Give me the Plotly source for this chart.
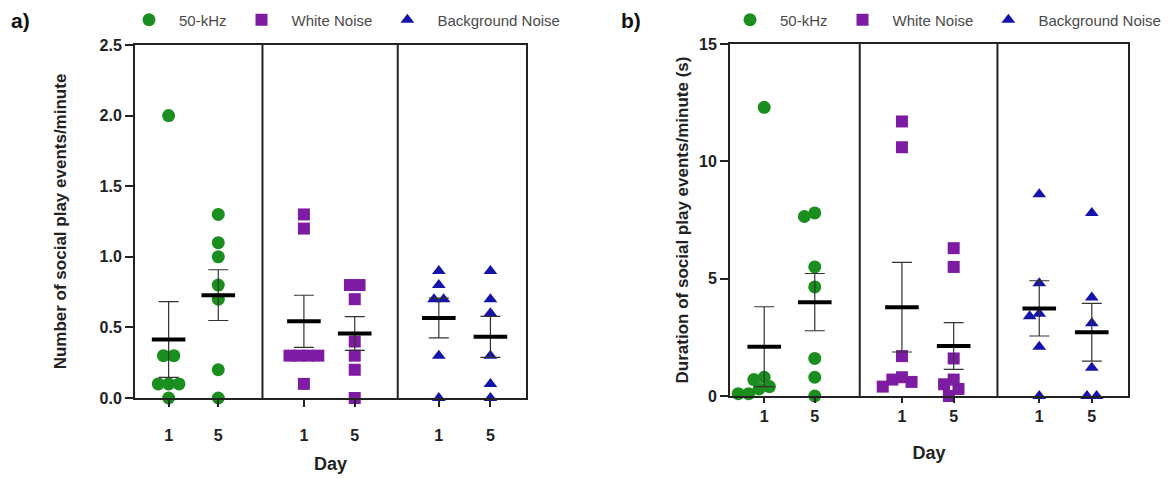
import numpy as np
import plotly.graph_objects as go

# ---------------- data ----------------
groups = ["50-kHz", "White Noise", "Background Noise"]
day_labels = ["1", "5", "1", "5", "1", "5"]

# Panel a: number of social play events / minute
events_50k_d1 = [2.0, 0.3, 0.3, 0.1, 0.1, 0.1, 0.0]
events_50k_d5 = [1.3, 1.1, 1.0, 0.8, 0.7, 0.2, 0.0]
events_wn_d1 = [1.3, 1.2, 0.3, 0.3, 0.3, 0.3, 0.1]
events_wn_d5 = [0.8, 0.8, 0.7, 0.4, 0.3, 0.2, 0.0]
events_bn_d1 = [0.9, 0.8, 0.7, 0.7, 0.3, 0.0]
events_bn_d5 = [0.9, 0.7, 0.6, 0.3, 0.1, 0.0]

# Panel b: duration of social play events / minute (s)
dur_50k_d1 = [12.3, 0.8, 0.7, 0.4, 0.3, 0.1, 0.1]
dur_50k_d5 = [7.8, 7.65, 5.5, 4.65, 1.6, 0.8, 0.0]
dur_wn_d1 = [11.7, 10.6, 1.7, 0.8, 0.7, 0.6, 0.4]
dur_wn_d5 = [6.3, 5.5, 1.6, 0.7, 0.5, 0.3, 0.0]
dur_bn_d1 = [8.6, 4.8, 3.5, 3.4, 2.1, 0.0]
dur_bn_d5 = [7.8, 4.2, 3.1, 1.2, 0.0, 0.0]

panel_a = [[events_50k_d1, events_50k_d5], [events_wn_d1, events_wn_d5], [events_bn_d1, events_bn_d5]]
panel_b = [[dur_50k_d1, dur_50k_d5], [dur_wn_d1, dur_wn_d5], [dur_bn_d1, dur_bn_d5]]

# ---------------- style / layout ----------------
colors = ["#1a8e1e", "#7d1ca3", "#1414a8"]
symbols = ["circle", "square", "triangle-up"]
msizes = [13, 12, 12]
FONT = "Liberation Sans, Arial, sans-serif"
W, H = 1174, 479
OFF = 8  # page body margin


def fx(px):
    return (px - OFF) / W


def fy(py):
    return (H - (py - OFF)) / H


tick_pos = [8.6, 21.3, 43.2, 56.2, 77.7, 90.9]
dividers = [32.6, 67.2]
X_RANGE = [0, 100]

dom_a_x = [fx(135), fx(526)]
dom_a_y = [fy(398), fy(45)]
dom_b_x = [fx(730), fx(1128)]
dom_b_y = [fy(396), fy(44)]


def swarm(values, d_px, px_per_y, px_per_x, overlap=0.8):
    """Simple beeswarm: return x offsets (in x units) limiting marker overlap."""
    vals = np.asarray(values, dtype=float)
    order = np.argsort(-vals, kind="stable")
    placed = []
    offs = np.zeros(len(vals))
    uniq = []
    for i in order:
        if not uniq or vals[i] != uniq[-1][0]:
            uniq.append([vals[i], [i]])
        else:
            uniq[-1][1].append(i)
    step = overlap * d_px
    cands = [0.0]
    for k in range(1, 20):
        cands += [-k * step / 2, k * step / 2]
    for v, idxs in uniq:
        k = len(idxs)
        base = [(j - (k - 1) / 2) * step for j in range(k)]
        y = v * px_per_y
        for c in cands:
            xs = [b + c for b in base]
            ok = all((x - px) ** 2 + (y - py) ** 2 >= (0.98 * step) ** 2 for x in xs for px, py in placed)
            if ok:
                break
        for j, i in enumerate(idxs):
            offs[i] = xs[j] / px_per_x
            placed.append((xs[j], y))
    return offs


fig = go.Figure()


def add_panel(data, xaxis, yaxis, legend, dom_x, dom_y, yrange):
    px_per_x = (dom_x[1] - dom_x[0]) * W / (X_RANGE[1] - X_RANGE[0])
    px_per_y = (dom_y[1] - dom_y[0]) * H / (yrange[1] - yrange[0])
    for g, (name, col, sym, ms) in enumerate(zip(groups, colors, symbols, msizes)):
        for d in range(2):
            vals = data[g][d]
            offs = swarm(vals, ms, px_per_y, px_per_x)
            xc = tick_pos[2 * g + d]
            fig.add_trace(go.Scatter(
                x=[xc + o for o in offs], y=vals, mode="markers",
                marker=dict(symbol=sym, size=ms, color=col, line=dict(width=0)),
                name=name, legendgroup=legend + name, showlegend=(d == 0),
                legend=legend, xaxis=xaxis, yaxis=yaxis, cliponaxis=False,
                hoverinfo="y"))
    for g in range(3):
        for d in range(2):
            vals = np.asarray(data[g][d], dtype=float)
            mean = vals.mean()
            sem = vals.std(ddof=1) / np.sqrt(len(vals))
            fig.add_trace(go.Scatter(
                x=[tick_pos[2 * g + d]], y=[mean], mode="markers",
                marker=dict(symbol="line-ew", size=24, color="black",
                            line=dict(color="black", width=4)),
                error_y=dict(type="data", array=[sem], visible=True,
                             color="#333333", thickness=1.2, width=10),
                showlegend=False, xaxis=xaxis, yaxis=yaxis, cliponaxis=False,
                hoverinfo="y"))
    for xv in dividers:
        fig.add_shape(type="line", xref=xaxis, yref=yaxis, x0=xv, x1=xv,
                      y0=yrange[0], y1=yrange[1],
                      line=dict(color="#222222", width=2), layer="above")


add_panel(panel_a, "x", "y", "legend", dom_a_x, dom_a_y, [0, 2.5])
add_panel(panel_b, "x2", "y2", "legend2", dom_b_x, dom_b_y, [0, 15])

axis_common = dict(showline=True, linecolor="#222222", linewidth=2, mirror=True,
                   showgrid=False, zeroline=False, ticks="outside",
                   tickcolor="#222222", tickwidth=2,
                   tickfont=dict(family=FONT, size=16, color="#222222", weight="bold"))

legend_common = dict(orientation="h", xanchor="left", yanchor="middle", itemwidth=50,
                     font=dict(family=FONT, size=15, color="#4a4a4a"),
                     bgcolor="rgba(0,0,0,0)", itemclick=False, itemdoubleclick=False)

fig.update_layout(
    width=W, height=H, plot_bgcolor="white", paper_bgcolor="white",
    margin=dict(l=0, r=0, t=0, b=0, autoexpand=False),
    font=dict(family=FONT, color="#222222"),
    xaxis=dict(domain=dom_a_x, range=X_RANGE, tickvals=tick_pos, ticktext=day_labels,
               ticklen=7, ticklabelstandoff=15, anchor="y",
               title=dict(text="<b>Day</b>", font=dict(family=FONT, size=18), standoff=14),
               **axis_common),
    yaxis=dict(domain=dom_a_y, range=[0, 2.5], tickvals=[0, 0.5, 1.0, 1.5, 2.0, 2.5],
               tickformat=".1f", ticklen=8, anchor="x",
               title=dict(text="<b>Number of social play events/minute</b>",
                          font=dict(family=FONT, size=17), standoff=29),
               **axis_common),
    xaxis2=dict(domain=dom_b_x, range=X_RANGE, tickvals=tick_pos, ticktext=day_labels,
                ticklen=5, ticklabelstandoff=0, anchor="y2",
                title=dict(text="<b>Day</b>", font=dict(family=FONT, size=18), standoff=22),
                **axis_common),
    yaxis2=dict(domain=dom_b_y, range=[0, 15], tickvals=[0, 5, 10, 15],
                ticklen=8, anchor="x2",
                title=dict(text="<b>Duration of social play events/minute (s)</b>",
                           font=dict(family=FONT, size=17), standoff=6),
                **axis_common),
    legend=dict(x=fx(119), y=fy(20), **legend_common),
    legend2=dict(x=fx(720), y=fy(20), **legend_common),
    annotations=[
        dict(text="<b>a)</b>", x=fx(9), y=fy(20), xref="paper", yref="paper",
             xanchor="left", yanchor="middle", showarrow=False,
             font=dict(family=FONT, size=21, color="#111111")),
        dict(text="<b>b)</b>", x=fx(619), y=fy(20), xref="paper", yref="paper",
             xanchor="left", yanchor="middle", showarrow=False,
             font=dict(family=FONT, size=21, color="#111111")),
    ],
)

fig.write_html("out.html")
